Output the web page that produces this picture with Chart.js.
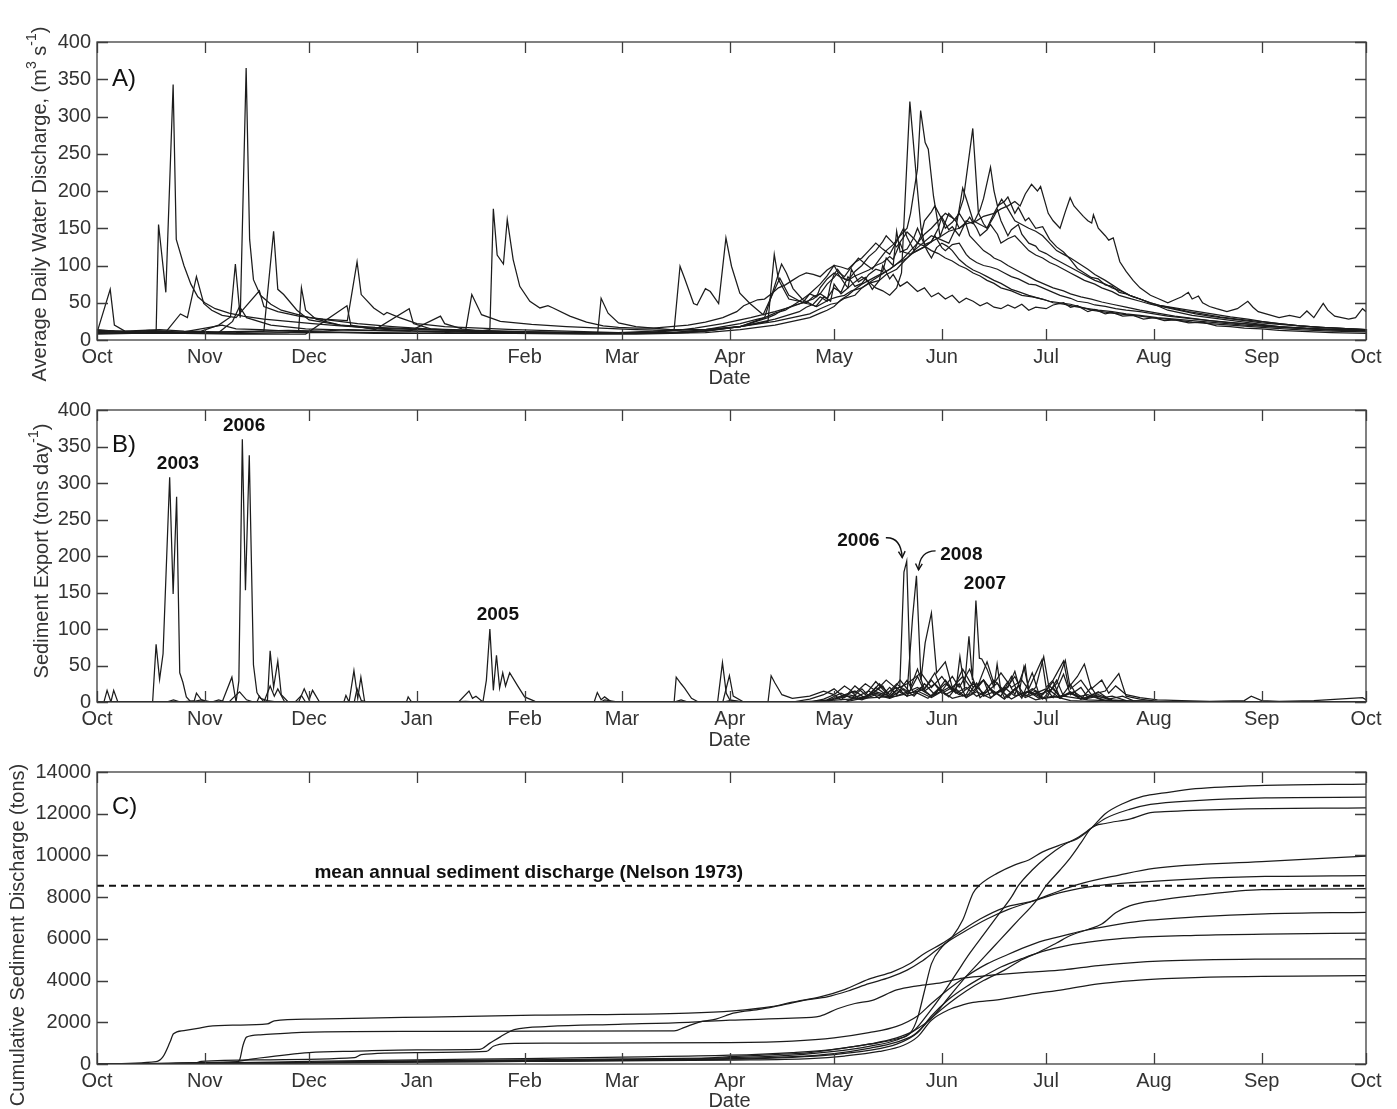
<!DOCTYPE html>
<html>
<head>
<meta charset="utf-8">
<title>Water discharge and sediment export by water year</title>
<script src="https://cdn.jsdelivr.net/npm/chart.js@4.4.0/dist/chart.umd.min.js"></script>
<style>
  html, body { margin: 0; padding: 0; background: #fff; }
  #wrap { position: relative; width: 1397px; height: 1109px; }
  canvas { position: absolute; left: 0; }
</style>
</head>
<body>
<div id="wrap">
  <canvas id="chartA" width="1397" height="392" style="top:0px"></canvas>
  <canvas id="chartB" width="1397" height="362" style="top:392px"></canvas>
  <canvas id="chartC" width="1397" height="355" style="top:754px"></canvas>
</div>
<script>
// x axis: day of the water year (0 = 1 Oct)
const monthDays = [0, 31, 61, 92, 123, 151, 182, 212, 243, 273, 304, 335, 365];
const monthLabels = ['Oct', 'Nov', 'Dec', 'Jan', 'Feb', 'Mar', 'Apr', 'May', 'Jun', 'Jul', 'Aug', 'Sep', 'Oct'];
const years = ['2001', '2002', '2003', '2004', '2005', '2006', '2007', '2008', '2009', '2010'];

const ticksA = [0, 50, 100, 150, 200, 250, 300, 350, 400];
const ticksB = [0, 50, 100, 150, 200, 250, 300, 350, 400];
const ticksC = [0, 2000, 4000, 6000, 8000, 10000, 12000, 14000];

// A) average daily water discharge, m3/s  [day, value]
const q2001 = [[0,14],[5,12],[12,11],[20,12],[25,10],[35,9],[45,9],[55,10],[58,12],[58.8,70],[60,40],[63,28],[70,20],[80,15],[92,12],[110,10],[130,9],[144,9],[145,56],[147,36],[150,23],[155,18],[165,14],[175,14],[185,18],[192,30],[196.9,102],[198.3,90],[200.2,69],[203,54],[206.8,45],[209,58],[211,52],[212,75],[214,62],[216,70],[217,95],[219,78],[221,84],[223,68],[225,80],[226,100],[228,82],[229,88],[231,72],[233,78],[236,65],[238,70],[240,58],[242,63],[244,55],[246,60],[248,50],[250,56],[252,52],[254,46],[256,50],[258,44],[260,42],[262,47],[264,43],[266,48],[268,40],[270,44],[273,42],[275,47],[278,50],[280,44],[282,46],[285,38],[287,41],[290,35],[292,37],[295,32],[298,33],[301,28],[304,30],[307,26],[310,27],[314,23],[318,24],[322,19],[326,18],[330,16],[335,15],[340,13],[345,12],[355,10],[365,9]];
const q2002 = [[0,10],[3.8,68],[5,20],[8,12],[15,10],[25,9],[40,8],[60,8],[71.9,46],[73,20],[80,14],[89.8,42],[91,22],[96,15],[106,12],[120,10],[140,9],[160,9],[175,12],[185,18],[193,25],[194.8,115],[196,81],[199,55],[204,50],[206,58],[208,62],[210,56],[212,70],[214,64],[216,85],[218,72],[220,76],[222,88],[224,95],[226,92],[227,110],[229,100],[230,146],[231,118],[233,122],[235,138],[236,150],[238,128],[240,132],[242,150],[243,165],[245,148],[246,152],[248,140],[250,160],[252,156],[254,175],[255,190],[257,232],[258,200],[259,180],[261,186],[262,192],[264,170],[265,178],[267,160],[268,164],[270,150],[272,152],[274,135],[276,125],[278,118],[280,108],[282,96],[284,90],[286,84],[288,82],[290,74],[292,72],[294,64],[296,62],[298,58],[300,55],[303,49],[305,46],[308,40],[310,38],[315,33],[320,30],[330,24],[340,18],[352,14],[365,12]];
const q2003 = [[0,8],[10,9],[17,9],[17.7,155],[19.8,64],[21.9,343],[22.8,135],[25,100],[27,75],[29,58],[31,50],[34,42],[38,36],[42,32],[48,28],[55,25],[62,22],[70,19],[80,16],[92,14],[110,12],[130,10],[150,9],[170,10],[185,18],[195,28],[202,38],[204,44],[206,48],[208,58],[210,52],[211,75],[212,88],[213,95],[215,82],[216,80],[218,86],[220,90],[222,94],[224,100],[226,104],[228,112],[229,108],[231,130],[232,118],[234,115],[236,120],[238,125],[240,132],[241,140],[243,124],[244,120],[246,128],[248,130],[250,115],[251,110],[253,104],[255,100],[257,98],[259,95],[261,90],[263,85],[265,82],[268,75],[270,74],[272,70],[275,64],[277,60],[280,56],[282,52],[285,50],[287,47],[290,45],[293,42],[296,40],[300,38],[304,35],[308,32],[312,30],[316,28],[320,26],[325,24],[330,22],[335,20],[340,18],[348,16],[356,14],[365,13]];
const q2004 = [[0,12],[8,11],[15,13],[20,12],[24,35],[26,30],[28.6,85],[30.7,49],[33,40],[36,33],[40,30],[46.7,66],[48,45],[52,38],[58,32],[65,28],[72,26],[74.8,105],[76,61],[79.6,43],[82.5,34],[83.4,37],[87,30],[92,22],[100,18],[110,16],[120,14],[135,12],[150,10],[165,10],[175,14],[185,22],[190,28],[192,30],[195,36],[198,40],[200,46],[203,50],[205,62],[207,58],[208,70],[210,82],[212,90],[214,84],[216,80],[218,92],[220,100],[222,112],[224,120],[226,132],[227,140],[229,130],[230,125],[232,138],[233,145],[235,136],[236,130],[238,126],[240,120],[242,116],[244,110],[246,106],[248,100],[250,96],[252,90],[254,86],[256,80],[258,76],[260,70],[263,66],[266,60],[269,58],[272,55],[275,50],[278,48],[281,45],[285,42],[288,40],[292,38],[296,35],[300,33],[305,30],[310,28],[315,26],[320,24],[325,22],[330,20],[337,18],[345,16],[355,14],[365,13]];
const q2005 = [[0,10],[10,9],[20,9],[35,10],[39,25],[41,45],[43,30],[50,20],[60,15],[75,13],[90,12],[98.8,32],[100,22],[105,15],[110,12],[113,14],[114,176],[115.1,114],[116.9,102],[118,162],[119.7,108],[121.6,72],[124.5,52],[127.4,43],[129.7,46],[131.2,43],[136,32],[140.8,24],[145.6,19],[150,17],[155,16],[160,16],[165,18],[170,20],[175,24],[180,30],[184,38],[186,46],[188,50],[190,54],[192,55],[194,62],[196,70],[198,74],[200,80],[202,86],[204,90],[206,88],[208,85],[210,94],[212,100],[214,98],[216,95],[218,104],[220,110],[222,120],[224,130],[226,122],[228,115],[230,132],[232,150],[233,138],[235,120],[237,140],[238,160],[240,172],[241,180],[243,162],[244,150],[246,158],[248,170],[250,155],[251,140],[253,130],[255,120],[257,114],[258,110],[260,106],[262,100],[264,95],[266,90],[268,85],[270,80],[272,76],[275,70],[278,66],[280,62],[283,58],[286,55],[289,51],[292,48],[296,44],[300,40],[305,36],[310,32],[315,29],[320,26],[326,23],[332,21],[338,18],[345,16],[355,14],[365,13]];
const q2006 = [[0,10],[10,9],[20,10],[30,12],[35,20],[38.4,31],[39.8,102],[41.2,30],[42.9,365],[43.9,135],[45,81],[47,60],[50,48],[53,40],[57,35],[61,30],[68,26],[75,22],[85,18],[95,15],[110,13],[125,11],[140,10],[155,10],[165,12],[172,16],[180,22],[188,30],[195,38],[200,45],[203,50],[206,55],[208,62],[210,75],[212,84],[213,90],[215,76],[216,70],[218,78],[220,85],[222,78],[224,70],[226,66],[228,60],[230,70],[231.4,90],[233.8,320],[235.8,211],[237,150],[238.2,125],[239,118],[240,110],[241.5,124],[243,130],[244.5,126],[246,120],[248,108],[250,100],[252,94],[254,90],[256,85],[258,80],[260,76],[263,68],[265,65],[268,60],[271,56],[274,52],[277,50],[280,48],[283,44],[286,40],[289,38],[292,36],[296,34],[300,32],[305,29],[310,27],[315,24],[320,22],[326,20],[332,18],[338,16],[345,14],[355,12],[365,11]];
const q2007 = [[0,9],[15,9],[30,9],[40,10],[48,12],[50.8,146],[52,68],[53.7,61],[57.5,40],[61,27],[70,20],[80,17],[92,15],[110,12],[125,11],[140,10],[160,9],[175,10],[185,14],[195,20],[205,30],[208,36],[210,40],[212,45],[214,54],[216,60],[218,68],[220,75],[222,80],[224,85],[226,90],[228,95],[230,102],[232,110],[234,120],[236,130],[238,142],[240,150],[242,160],[244,170],[246,164],[247,160],[248,172],[249.2,189],[251.9,284],[253.5,171],[255,156],[256,150],[258,166],[259,175],[260,160],[262,140],[263,148],[265,155],[266,142],[268,130],[270,126],[271,120],[273,116],[275,110],[277,105],[279,100],[281,95],[283,90],[285,85],[287,80],[290,75],[292,70],[295,65],[297,60],[300,55],[303,50],[306,46],[310,42],[314,38],[318,35],[323,31],[328,28],[334,25],[340,22],[346,19],[352,17],[365,14]];
const q2008 = [[0,11],[12,10],[25,11],[36,20],[40,15],[47,14],[55,12],[65,11],[80,10],[100,9],[120,9],[140,8],[155,8],[165,9],[175,12],[185,18],[193,30],[195,34],[197,40],[200,46],[203,55],[205,62],[208,75],[210,86],[212,100],[213,92],[215,85],[217,98],[219,110],[221,102],[223,95],[225,108],[227,120],[229,128],[231,140],[233,150],[234,170],[236,230],[236.9,308],[238.2,265],[239.1,256],[240.6,193],[242.5,139],[244,158],[245,170],[247,160],[248,150],[250,158],[251,165],[253,150],[254,140],[256,148],[257,155],[259,142],[260,130],[262,136],[264,140],[266,130],[268,120],[270,114],[272,110],[274,104],[276,100],[278,95],[280,90],[282,85],[284,80],[287,75],[289,70],[292,65],[294,60],[297,56],[300,52],[303,48],[306,45],[310,41],[313,38],[316,35],[320,32],[325,29],[330,26],[335,23],[340,21],[346,19],[352,17],[365,14]];
const q2009 = [[0,12],[10,11],[20,10],[30,10],[40,11],[50,11],[60,10],[70,10],[80,9],[92,9],[100,10],[106,12],[107.8,61],[110.6,34],[113,30],[116,25],[125,21],[135,18],[145,16],[155,14],[165,13],[175,14],[185,18],[195,25],[200,30],[205,35],[208,42],[211,48],[213,50],[215,56],[218,60],[220,70],[223,80],[225,86],[228,95],[230,102],[233,110],[235,118],[238,125],[240,132],[243,140],[245,146],[248,150],[250,156],[253,160],[255,166],[258,170],[260,176],[262,180],[264,186],[265.5,180],[267,196],[268.8,209],[270.5,200],[271.4,206],[272.5,188],[273.6,170],[275,160],[277,150],[278.5,172],[279.9,191],[281,180],[283.7,166],[285,160],[286.1,157],[286.6,168],[288,150],[290,140],[291,134],[292.3,137],[294.2,105],[296,92],[298,80],[300,70],[303,60],[305,56],[308,50],[310,54],[312,58],[313.9,64],[315,55],[316.8,59],[318,50],[320,45],[322,42],[325,38],[328,42],[331,52],[332.5,44],[334,38],[337,34],[340,30],[343,33],[346,30],[348,39],[350,30],[352.7,49],[354,40],[356,32],[358,30],[360,28],[362,30],[364,42],[365,38]];
const q2010 = [[0,13],[8,12],[18,14],[25,12],[35,11],[46,12],[55,13],[65,12],[72,14],[80,13],[92,12],[105,11],[120,10],[135,10],[150,10],[160,12],[166,14],[167.7,99],[169,83],[171.6,49],[172.6,47],[175,69],[176.4,65],[178.8,49],[180.9,137],[182.5,99],[184.9,63],[187.8,49],[191.6,34],[196.4,83],[199,60],[201,55],[203,50],[205,48],[207,45],[209,50],[211,55],[213,58],[215,60],[217,66],[220,70],[222,76],[225,80],[227,88],[230,95],[232,105],[235,120],[237,128],[240,140],[242,136],[245,130],[247,150],[248,176],[249,204],[250,190],[252,160],[254,155],[256,150],[258,170],[260.2,189],[262,176],[264,160],[266,155],[268,150],[270,146],[272,140],[274,130],[276,120],[278,115],[280,110],[282,104],[285,95],[287,88],[290,80],[292,74],[295,65],[297,60],[300,55],[303,50],[306,46],[310,43],[314,40],[318,37],[322,34],[326,31],[331,28],[335,25],[340,22],[346,19],[352,17],[365,14]];

// B) sediment export, tons/day  [day, value]
const s2001 = [[0,0],[2,0],[2.9,16],[4,0],[4.8,16],[6,0],[57,0],[58.8,9],[60,0],[145,0],[146,3],[150,0],[205,0],[209,4],[212,10],[214,3],[217,14],[219,5],[222,9],[226,22],[228,6],[230,16],[233,8],[236,12],[239,5],[242,18],[245,7],[248,25],[250,6],[253,14],[257,5],[260,18],[262,6],[265,22],[267,8],[270,15],[272,4],[275,20],[277,6],[280,12],[283,4],[286,9],[290,2],[295,1],[300,0],[365,0]];
const s2002 = [[0,0],[71,0],[71.6,9],[72.5,0],[73.9,43],[75,5],[75.9,34],[77,0],[89,0],[89.5,7],[90.5,0],[180,0],[181.9,36],[183,8],[186,0],[215,0],[218,6],[222,15],[225,5],[228,20],[230,10],[233,30],[235,12],[238,18],[241,40],[243,15],[246,35],[248,20],[251,45],[253,18],[256,55],[258,25],[260,40],[263,20],[266,30],[269,10],[273,18],[275,6],[278,38],[280,10],[283,20],[285,6],[288,14],[291,4],[295,8],[298,2],[303,1],[310,0],[365,0]];
const s2003 = [[0,0],[16,0],[17,79],[18,31],[19,66],[20.9,308],[21.9,148],[22.9,281],[23.8,40],[24.7,27],[25.7,7],[27,0],[30,3],[32,0],[205,0],[210,3],[214,12],[217,5],[220,18],[222,8],[225,25],[228,10],[231,30],[234,12],[237,20],[240,8],[243,15],[246,5],[250,10],[252,28],[254,6],[257,18],[260,8],[263,35],[265,10],[268,14],[271,5],[274,22],[277,8],[280,12],[284,5],[288,10],[292,3],[298,1],[305,0],[365,0]];
const s2004 = [[0,0],[20,0],[22,3],[24,0],[28,2],[28.6,12],[30,3],[33,0],[46,0],[46.7,8],[48,0],[74,0],[74.8,18],[76,2],[78,0],[178.5,0],[179.9,54],[181,12],[182,3],[186,0],[200,0],[205,4],[209,10],[212,18],[215,6],[218,22],[221,10],[224,28],[227,12],[230,20],[233,8],[236,35],[238,15],[241,25],[244,10],[247,18],[250,6],[253,26],[255,8],[258,14],[261,4],[264,18],[267,6],[270,12],[273,4],[276,30],[278,8],[281,14],[284,4],[288,8],[292,2],[300,0],[365,0]];
const s2005 = [[0,0],[38,0],[39,5],[41,14],[43,3],[45,0],[104,0],[107,15],[108,5],[109,8],[111,0],[112,30],[113,100],[114,16],[114.9,64],[115.8,19],[116.7,40],[117.5,22],[118.7,40],[121,22],[123,7],[126,1],[130,0],[143,0],[143.9,13],[145,3],[146,7],[148,0],[215,0],[220,5],[224,12],[228,6],[232,18],[235,8],[238,25],[241,10],[244,30],[247,12],[250,20],[253,8],[256,14],[259,26],[261,6],[264,18],[266,5],[269,40],[271,10],[274,16],[277,5],[280,24],[282,7],[285,10],[289,3],[295,1],[300,0],[365,0]];
const s2006 = [[0,0],[36,0],[38.8,34],[40,0],[40.8,29],[41.8,360],[42.7,153],[43.8,338],[45,51],[46,13],[47,5],[49,2],[52,0],[166,0],[166.6,34],[168,25],[169,19],[171,5],[173,0],[208,0],[212,5],[216,10],[220,6],[224,14],[228,8],[230.9,21],[232.1,178],[232.9,193],[234,20],[236,45],[238,18],[240,30],[243,12],[246,20],[249,8],[252,12],[255,30],[257,6],[260,15],[263,4],[266,12],[270,3],[275,8],[280,2],[290,0],[365,0]];
const s2007 = [[0,0],[49,0],[49.8,70],[50.8,20],[52,56],[53,10],[55,0],[208,0],[212,4],[216,8],[220,3],[224,10],[228,5],[232,12],[236,20],[240,8],[244,25],[247,15],[248.2,62],[249.5,20],[250.8,90],[251.8,30],[252.8,139],[253.8,60],[254.5,59],[256,45],[258,20],[258.9,52],[260,15],[262,28],[264,10],[267,50],[268,12],[270,20],[272.3,62],[274,15],[276,25],[278.5,57],[280,18],[283,30],[286,10],[290,15],[293.9,39],[296,8],[300,4],[305,1],[310,0],[365,0]];
const s2008 = [[0,0],[33,0],[35,3],[37,0],[48,0],[49.8,22],[51,8],[52,18],[54,0],[58,0],[59.6,18],[61,3],[62,16],[64,0],[210,0],[214,8],[218,15],[221,5],[224,20],[227,10],[230,25],[233,12],[234.6,117],[235.7,173],[237,30],[238.2,81],[240,122],[241.5,40],[244,55],[246,20],[249,35],[252,15],[255,30],[258,10],[261,20],[264,8],[268,15],[272,5],[278,8],[285,3],[295,1],[305,0],[365,0]];
const s2009 = [[0,0],[100,0],[106,1],[110,0],[200,0],[210,2],[220,5],[230,8],[236,15],[240,6],[245,20],[248,10],[252,25],[255,12],[258,30],[261,15],[264,35],[265.5,20],[266.6,48],[268,18],[271.8,58],[273,20],[275,30],[278,56],[279.5,20],[282,35],[284,52],[286,18],[289,30],[291,12],[293,22],[296,10],[300,6],[305,3],[312,2],[320,1],[330,2],[332,8],[335,2],[340,1],[350,2],[364,6],[365,3]];
const s2010 = [[0,0],[166,0],[168,3],[170,0],[180,0],[182,2],[186,0],[193,0],[193.9,36],[195,26],[197,10],[200,5],[205,8],[209,15],[212,10],[215,22],[218,12],[221,25],[224,15],[227,30],[230,18],[233,25],[237,40],[240,20],[243,35],[246,15],[249,45],[252,20],[255,30],[258,12],[262,20],[264,42],[266,8],[269,18],[272,10],[275,28],[277,6],[280,14],[283,4],[286,20],[288,5],[292,8],[296,2],[305,1],[320,0],[365,0]];

// C) cumulative sediment discharge, tons  [day, value]
const c2001 = [[0,0],[58,50],[92,110],[123,150],[151,180],[182,230],[200,320],[212,450],[222,650],[230,950],[236,1500],[240,2300],[245,3100],[250,3700],[255,4200],[260,4650],[266,5050],[272,5400],[279,5680],[288,5900],[297,6050],[316,6170],[336,6230],[365,6270]];
const c2002 = [[0,0],[61,80],[92,130],[123,170],[151,210],[182,260],[200,350],[212,500],[222,750],[230,1050],[235,1400],[240,2200],[245,2900],[250,3500],[255,4000],[261,4500],[266,5000],[271,5370],[276,5800],[280,6160],[285,6450],[289,6710],[293,7250],[297,7580],[305,7850],[316,8080],[335,8360],[365,8406]];
const c2003 = [[0,0],[17,110],[19,350],[21,1050],[22,1450],[25,1600],[29,1710],[32,1800],[39,1860],[49,1920],[51,2070],[62,2150],[88,2230],[126,2340],[170,2440],[183,2550],[194,2750],[200,2970],[208,3220],[215,3570],[222,4070],[229,4430],[234,4830],[238,5300],[243,5770],[248,6320],[254,6950],[261,7500],[269,7810],[274,8120],[282,8600],[294,9060],[304,9380],[335,9700],[365,9963]];
const c2004 = [[0,0],[28,40],[30,120],[47,200],[74,300],[76,450],[92,550],[112,600],[114,850],[118,980],[130,1000],[182,1030],[200,1100],[212,1250],[222,1500],[230,1800],[236,2300],[240,2900],[245,3600],[250,4200],[256,4800],[262,5250],[267,5600],[272,5900],[278,6150],[284,6400],[292,6650],[300,6850],[316,7050],[336,7200],[365,7275]];
const c2005 = [[0,0],[38,80],[45,250],[61,550],[75,620],[92,680],[110,700],[113,1000],[116,1300],[120,1650],[130,1800],[150,1900],[170,2000],[182,2100],[200,2200],[208,2300],[213,2650],[218,2900],[223,3050],[230,3550],[236,3750],[243,3900],[249,4120],[259,4280],[268,4400],[278,4510],[288,4720],[307,4940],[335,5030],[365,5044]];
const c2006 = [[0,0],[40,100],[41,190],[42,900],[43,1290],[47,1400],[56,1495],[88,1560],[166,1590],[169,1760],[173,2000],[178,2150],[183,2440],[191,2630],[197,2820],[204,3070],[210,3220],[216,3500],[222,3850],[228,4150],[233,4500],[237,4900],[241,5400],[245,5900],[250,6400],[256,6950],[262,7400],[270,7850],[278,8250],[288,8550],[300,8720],[316,8880],[336,8990],[365,9036]];
const c2007 = [[0,0],[50,40],[61,80],[92,150],[123,200],[151,250],[182,300],[200,420],[212,600],[222,850],[230,1150],[235,1600],[239,2400],[243,3300],[247,4300],[251,5300],[255,6200],[259,7100],[263,8000],[265,8550],[269,9300],[273,9900],[278,10500],[282,10850],[286,11310],[290,11770],[297,12210],[303,12445],[316,12630],[336,12760],[365,12790]];
const c2008 = [[0,0],[30,40],[61,120],[92,200],[123,260],[151,330],[182,420],[200,550],[212,700],[222,950],[230,1200],[234,1500],[236,2200],[238,3500],[240,4800],[243,5600],[246,6100],[249,6900],[252,8200],[254,8600],[259,9150],[264,9550],[268,9780],[272,10170],[278,10560],[282,10800],[286,11310],[290,12000],[295,12480],[301,12840],[307,13000],[316,13200],[336,13360],[365,13420]];
const c2009 = [[0,0],[61,50],[92,90],[123,120],[151,150],[182,190],[205,260],[215,380],[225,600],[232,900],[236,1300],[240,2100],[245,2600],[249,2830],[252,2950],[259,3080],[268,3330],[278,3570],[288,3840],[298,4000],[307,4090],[320,4170],[335,4200],[365,4243]];
const c2010 = [[0,0],[61,60],[92,100],[123,140],[151,170],[170,220],[182,350],[195,450],[205,550],[212,700],[222,950],[230,1250],[235,1600],[240,2200],[245,3200],[250,4200],[255,5100],[260,6000],[265,6900],[270,7800],[273,8550],[277,9300],[280,9900],[283,10600],[286,11310],[290,11530],[297,11740],[303,12050],[307,12100],[326,12210],[365,12280]];

const nelsonMean = 8550;

const seriesA = [q2001, q2002, q2003, q2004, q2005, q2006, q2007, q2008, q2009, q2010];
const seriesB = [s2001, s2002, s2003, s2004, s2005, s2006, s2007, s2008, s2009, s2010];
const seriesC = [c2001, c2002, c2003, c2004, c2005, c2006, c2007, c2008, c2009, c2010];

// ---- drawing ----
const INK = '#1c1c1c';
const AXIS = '#3d3d3d';
const FONT = '"Liberation Sans", Arial, sans-serif';

const toXY = arr => arr.map(p => ({ x: p[0], y: p[1] }));

function lineSets(list, smooth) {
  return list.map((arr, i) => ({
    label: years[i],
    data: toXY(arr),
    borderColor: INK,
    borderWidth: 1.25,
    pointRadius: 0,
    fill: false,
    tension: 0,
    cubicInterpolationMode: smooth ? 'monotone' : 'default'
  }));
}

// draws text with superscript pieces, centred on (0,0) of the current transform
function drawRich(ctx, parts, size) {
  const big = size + 'px ' + FONT, small = Math.round(size * 0.68) + 'px ' + FONT;
  let w = 0;
  parts.forEach(p => { ctx.font = p.sup ? small : big; w += ctx.measureText(p.t).width; });
  let x = -w / 2;
  ctx.textBaseline = 'middle';
  ctx.textAlign = 'left';
  parts.forEach(p => {
    ctx.font = p.sup ? small : big;
    ctx.fillText(p.t, x, p.sup ? -size * 0.38 : 0);
    x += ctx.measureText(p.t).width;
  });
}

function arrow(ctx, x, y, pts) {
  const p = pts.map(q => [x.getPixelForValue(q[0]), y.getPixelForValue(q[1])]);
  ctx.beginPath();
  ctx.moveTo(p[0][0], p[0][1]);
  ctx.quadraticCurveTo(p[1][0], p[1][1], p[2][0], p[2][1]);
  ctx.stroke();
  const ang = Math.atan2(p[2][1] - p[1][1], p[2][0] - p[1][0]);
  ctx.beginPath();
  ctx.moveTo(p[2][0] - 7 * Math.cos(ang - 0.5), p[2][1] - 7 * Math.sin(ang - 0.5));
  ctx.lineTo(p[2][0], p[2][1]);
  ctx.lineTo(p[2][0] - 7 * Math.cos(ang + 0.5), p[2][1] - 7 * Math.sin(ang + 0.5));
  ctx.stroke();
}

const framePlugin = {
  id: 'frame',
  afterDraw(chart, args, o) {
    const { ctx, chartArea: a } = chart;
    const x = chart.scales.x, y = chart.scales.y;
    ctx.save();
    // axes box with inward ticks on all four sides
    ctx.strokeStyle = AXIS;
    ctx.lineWidth = 1.3;
    ctx.strokeRect(a.left, a.top, a.right - a.left, a.bottom - a.top);
    ctx.beginPath();
    monthDays.forEach(d => {
      const px = Math.round(x.getPixelForValue(d)) + 0.5;
      ctx.moveTo(px, a.bottom); ctx.lineTo(px, a.bottom - 11);
      ctx.moveTo(px, a.top); ctx.lineTo(px, a.top + 11);
    });
    o.yTicks.forEach(v => {
      const py = Math.round(y.getPixelForValue(v)) + 0.5;
      ctx.moveTo(a.left, py); ctx.lineTo(a.left + 11, py);
      ctx.moveTo(a.right, py); ctx.lineTo(a.right - 11, py);
    });
    ctx.stroke();

    // panel letter
    ctx.fillStyle = '#111';
    ctx.font = '24px ' + FONT;
    ctx.textAlign = 'left';
    ctx.textBaseline = 'middle';
    ctx.fillText(o.letter, a.left + 15, y.getPixelForValue(o.letterAt));

    // axis titles
    ctx.fillStyle = '#333';
    ctx.font = '20px ' + FONT;
    ctx.textAlign = 'center';
    ctx.textBaseline = 'middle';
    ctx.fillText('Date', (a.left + a.right) / 2 - 2, a.bottom + o.dateGap);
    ctx.save();
    ctx.translate(o.titleX, o.titleY - chart.canvas.offsetTop);
    ctx.rotate(-Math.PI / 2);
    drawRich(ctx, o.yTitle, 20);
    ctx.restore();

    // in-plot labels
    ctx.fillStyle = '#111';
    (o.labels || []).forEach(l => {
      ctx.font = l.font;
      ctx.textAlign = 'center';
      ctx.textBaseline = 'middle';
      ctx.fillText(l.text, x.getPixelForValue(l.at[0]), y.getPixelForValue(l.at[1]));
    });
    ctx.strokeStyle = '#111';
    ctx.lineWidth = 1.4;
    (o.arrows || []).forEach(p => arrow(ctx, x, y, p));
    ctx.restore();
  }
};

function makeChart(id, cfg) {
  const canvas = document.getElementById(id);
  const xAxisH = canvas.height - cfg.plotBottom;
  return new Chart(canvas, {
    type: 'line',
    data: { datasets: cfg.datasets },
    plugins: [framePlugin],
    options: {
      responsive: false,
      animation: false,
      devicePixelRatio: 1,
      layout: { padding: { top: cfg.plotTop, left: 0, right: 31, bottom: 0 } },
      plugins: {
        legend: { display: false },
        tooltip: { enabled: false },
        frame: cfg.frame
      },
      scales: {
        x: {
          type: 'linear', min: 0, max: 365,
          afterBuildTicks: s => { s.ticks = monthDays.map(v => ({ value: v })); },
          afterFit: s => { s.height = xAxisH; },
          grid: { display: false, drawTicks: false },
          border: { display: false },
          ticks: {
            autoSkip: false, maxRotation: 0, padding: 5,
            color: '#333', font: { family: FONT, size: 20 },
            callback: (v, i) => monthLabels[i]
          }
        },
        y: {
          type: 'linear', min: cfg.yTicks[0], max: cfg.yTicks[cfg.yTicks.length - 1],
          afterBuildTicks: s => { s.ticks = cfg.yTicks.map(v => ({ value: v })); },
          afterFit: s => { s.width = 97; },
          grid: { display: false, drawTicks: false },
          border: { display: false },
          ticks: {
            padding: 6, color: '#333', font: { family: FONT, size: 20 },
            callback: v => String(v)
          }
        }
      }
    }
  });
}

makeChart('chartA', {
  plotTop: 42, plotBottom: 340,
  yTicks: ticksA,
  datasets: lineSets(seriesA, false),
  frame: {
    yTicks: ticksA, letter: 'A)', letterAt: 350, dateGap: 38,
    titleX: 40, titleY: 204,
    yTitle: [{ t: 'Average Daily Water Discharge, (m' }, { t: '3', sup: true }, { t: ' s' }, { t: '-1', sup: true }, { t: ')' }]
  }
});

const yearFont = 'bold 19px ' + FONT;
makeChart('chartB', {
  plotTop: 13, plotBottom: 310,
  yTicks: ticksB,
  datasets: lineSets(seriesB, false),
  frame: {
    yTicks: ticksB, letter: 'B)', letterAt: 352, dateGap: 38,
    titleX: 42, titleY: 551,
    yTitle: [{ t: 'Sediment Export (tons day' }, { t: '-1', sup: true }, { t: ')' }],
    labels: [
      { text: '2003', at: [23.3, 326], font: yearFont },
      { text: '2006', at: [42.3, 378], font: yearFont },
      { text: '2005', at: [115.3, 120], font: yearFont },
      { text: '2006', at: [219.0, 221], font: yearFont },
      { text: '2008', at: [248.6, 202], font: yearFont },
      { text: '2007', at: [255.4, 162], font: yearFont }
    ],
    arrows: [
      [[226.9, 225], [231.2, 226], [231.6, 198]],
      [[241.2, 207], [236.6, 207], [236.3, 181]]
    ]
  }
});

const nelsonLine = {
  label: 'Nelson 1973',
  data: [{ x: 0, y: nelsonMean }, { x: 365, y: nelsonMean }],
  borderColor: '#111', borderWidth: 2, borderDash: [7, 5], pointRadius: 0, fill: false
};
makeChart('chartC', {
  plotTop: 13, plotBottom: 310,
  yTicks: ticksC,
  datasets: lineSets(seriesC, true).concat([nelsonLine]),
  frame: {
    yTicks: ticksC, letter: 'C)', letterAt: 12300, dateGap: 37,
    titleX: 18, titleY: 935,
    yTitle: [{ t: 'Cumulative Sediment Discharge (tons)' }],
    labels: [
      { text: 'mean annual sediment discharge (Nelson 1973)', at: [124.2, 9150], font: 'bold 19px ' + FONT }
    ]
  }
});
</script>
</body>
</html>
